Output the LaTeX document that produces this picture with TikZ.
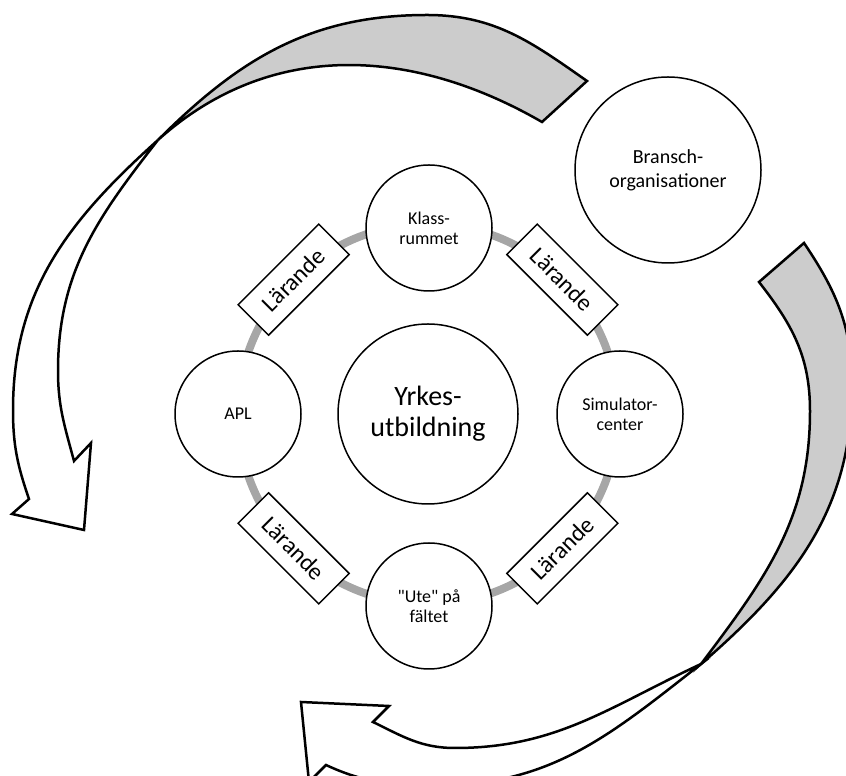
\documentclass[tikz,border=0pt]{standalone}
\usepackage{fontspec}
\setmainfont{Carlito}[Ligatures=TeXOff]
\usetikzlibrary{calc}
\definecolor{ringgray}{HTML}{A6A6A6}
\definecolor{backgray}{HTML}{CCCCCC}
\tikzset{
  station/.style={circle, draw, line width=1.5pt, fill=white, minimum size=126pt, inner sep=0pt, align=center, font=\fontsize{18}{20}\selectfont},
  laerande/.style={draw, line width=1.5pt, fill=white, minimum width=114pt, minimum height=43pt, inner sep=0pt, font=\fontsize{24}{26}\selectfont},
  ribbon/.style={draw, line width=2.5pt, line join=miter},
}
\begin{document}
\begin{tikzpicture}[x=1pt, y=1pt]
		\useasboundingbox (0,0) rectangle (846,776);
		\clip (0,0) rectangle (846,776);
		% upper arrow: back part, then front part with head
		\filldraw[ribbon, fill=backgray] (158,636) to[out=45,in=180] (427,761) to[out=0,in=145] (587,695)
			-- (542,654) to[out=150,in=42] (158,636) -- cycle;
		\filldraw[ribbon, fill=white] (158,636) to[out=222,in=90] (13,366) to[out=-90,in=109] (29,277)
			-- (12,262) -- (84,246) -- (91,333)
			-- (74,315) to[out=105,in=-90] (58,405) to[out=90,in=232] (158,636) -- cycle;
		% lower arrow
		\filldraw[ribbon, fill=backgray] (701,112) to[out=41,in=-90] (852,390) to[out=90,in=-56] (804,533)
			-- (759,494) to[out=-52,in=90] (810,365) to[out=-90,in=53] (701,112) -- cycle;
		\filldraw[ribbon, fill=white] (701,112) to[out=205,in=0] (455,28) to[out=180,in=-26] (373,54)
			-- (389,70) -- (301,74) -- (309,-6)
			-- (326,11) to[out=-25,in=180] (440,-9) to[out=0,in=218] (701,112) -- cycle;
		% the ring
		\node[station, minimum size=180pt, font=\fontsize{28}{31}\selectfont] (yrk) at (428,362) {Yrkes-\\utbildning};
		\draw[ringgray, line width=8pt] (yrk.center) circle[radius=190];
		\node[station] (klass) at (429,548) {Klass-\\rummet};
		\node[station] (sim) at (620,362) {Simulator-\\center};
		\node[station] (ute) at (429,170) {"Ute" på\\fältet};
		\node[station] (apl) at (238,362) {APL};
		\foreach \a/\r/\n in {135/45/ul, 45/-45/ur, -45/45/lr, -135/-45/ll}
		{
			\node[laerande, rotate=\r] (lar-\n) at ($(yrk)+(\a:190)$) {Lärande};
		}
		\node[station, minimum size=186pt, font=\fontsize{20}{24}\selectfont] (bransch) at (668,606) {Bransch-\\organisationer};
\end{tikzpicture}
\end{document}
